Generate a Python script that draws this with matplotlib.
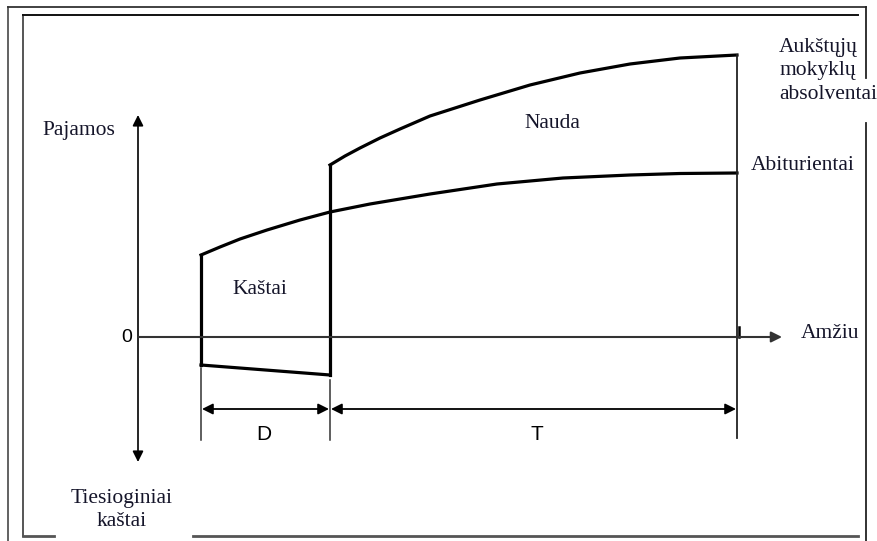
import matplotlib
matplotlib.use("Agg")
import matplotlib.pyplot as plt

# ---- data (diagram units: x = age position, y = income level, screen-like) ----
grad_age = [330, 345, 360, 380, 400, 430, 480, 530, 580, 630, 680, 737]
grad_income = [165, 156, 148, 138, 129, 116, 100, 85, 73, 64, 58, 55]

abit_age = [201, 220, 240, 267, 300, 330, 370, 430, 497, 563, 630, 680, 737]
abit_income = [255, 247, 239, 230, 220, 212, 204, 194, 184, 178, 175, 173.5, 173]

cost_age = [201, 330]
cost_income = [365, 375]

start_study = 201
end_study = 330
end_work = 737
zero_level = 337

labels_serif = {
    "Pajamos": (79, 130),
    "Kaštai": (260, 289),
    "Nauda": (552, 124),
    "Abiturientai": (803, 166),
    "Amžiu": (830, 334),
}

fig = plt.figure(figsize=(8.77, 5.41), dpi=100)
ax = fig.add_axes([0, 0, 1, 1])
ax.set_xlim(0, 877)
ax.set_ylim(541, 0)
ax.axis("off")

serif = "Liberation Serif"
sans = "Liberation Sans"
tc = "#15152a"

# ---- frames ----
fc = "#555555"
ax.plot([8, 8], [7, 541], color=fc, lw=1.3)
ax.plot([8, 866], [7, 7], color="#333333", lw=1.3)
ax.plot([866, 866], [7, 78], color="#222222", lw=1.3)
ax.plot([866, 866], [123, 541], color="#222222", lw=1.3)
ax.plot([23, 23], [15, 536], color=fc, lw=1.4)
ax.plot([23, 858], [15, 15], color="#111111", lw=1.4)
ax.plot([23, 54], [536, 536], color=fc, lw=2.0)
ax.plot([193, 858], [536, 536], color=fc, lw=2.0)

# ---- axes arrows ----
ax.annotate("", xy=(138, 115), xytext=(138, 462),
            arrowprops=dict(arrowstyle="<|-|>", color="black", lw=1.2,
                            mutation_scale=16, shrinkA=0, shrinkB=0))
ax.annotate("", xy=(782, zero_level), xytext=(138, zero_level),
            arrowprops=dict(arrowstyle="-|>", color="#333333", lw=1.5,
                            mutation_scale=16, shrinkA=0, shrinkB=0))
ax.plot([739, 739], [327, zero_level], color="black", lw=1.8)

# ---- curves ----
lw_c = 2.3
ax.plot(abit_age, abit_income, color="black", lw=lw_c, solid_joinstyle="round")
ax.plot(grad_age, grad_income, color="black", lw=lw_c, solid_joinstyle="round")
ax.plot([start_study, start_study], [abit_income[0], cost_income[0]], color="black", lw=lw_c)
ax.plot(cost_age, cost_income, color="black", lw=lw_c)
ax.plot([end_study, end_study], [cost_income[1], grad_income[0]], color="black", lw=lw_c)
ax.plot([end_work, end_work], [grad_income[-1], 438], color="#222222", lw=1.3)

# ---- dimension lines ----
ax.plot([start_study, start_study], [368, 440], color="#333333", lw=1.1)
ax.plot([end_study, end_study], [380, 440], color="#333333", lw=1.1)
for a, b in [(start_study, end_study), (end_study, end_work)]:
    ax.annotate("", xy=(a + 1, 409), xytext=(b - 1, 409),
                arrowprops=dict(arrowstyle="<|-|>", color="black", lw=1.3,
                                mutation_scale=16, shrinkA=0, shrinkB=0))

# ---- texts ----
for txt, (x, y) in labels_serif.items():
    ax.text(x, y, txt, fontsize=15.5, family=serif, color=tc, ha="center", va="center")
ax.text(779, 71, "Aukštųjų\nmokyklų\nabsolventai", fontsize=15.5, family=serif,
        color=tc, ha="left", va="center", multialignment="left", linespacing=1.35)
ax.text(122, 510, "Tiesioginiai\nkaštai", fontsize=15.5, family=serif,
        color=tc, ha="center", va="center", linespacing=1.35)
ax.text(127, 337, "0", fontsize=14, family=sans, color="black", ha="center", va="center")
ax.text(264, 434, "D", fontsize=15, family=sans, color="black", ha="center", va="center")
ax.text(537, 434, "T", fontsize=15, family=sans, color="black", ha="center", va="center")

fig.savefig("out.png", dpi=100)
